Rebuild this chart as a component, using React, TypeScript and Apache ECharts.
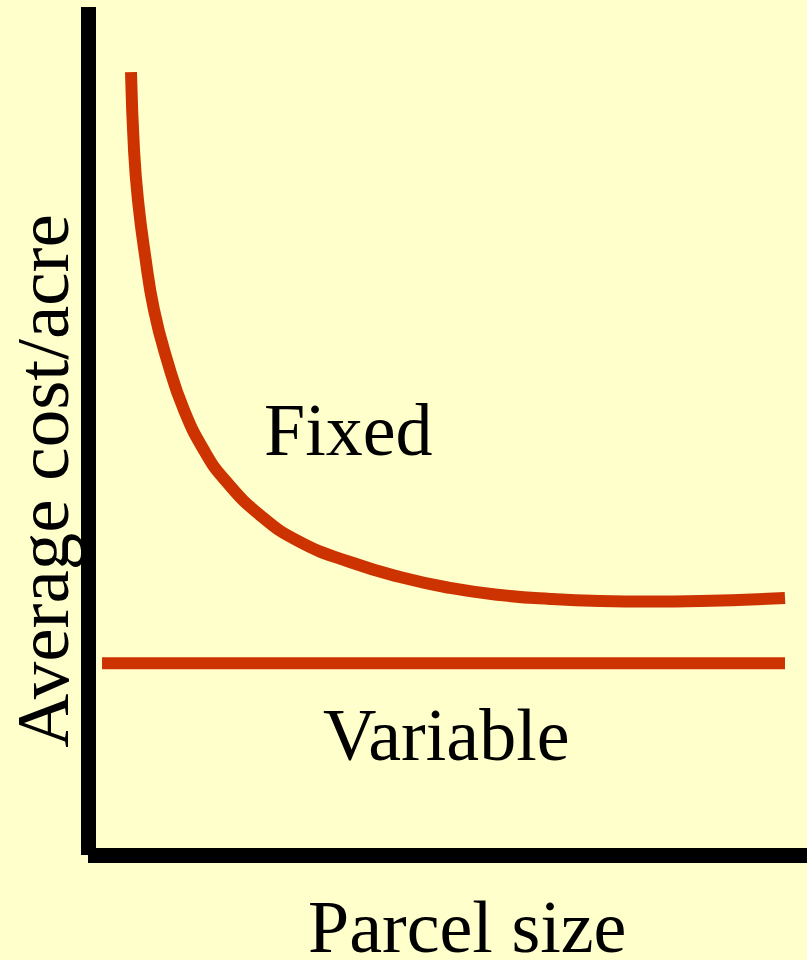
import React, { useEffect, useRef } from "react";
import * as echarts from "echarts";

// Fixed cost per acre curve (abstract units: x = parcel size 0..100, y = avg cost 0..100)
const fixedX = [5.98, 6.4, 6.95, 7.93, 9.18, 10.99, 13.35, 16.27, 19.05, 23.92, 29.49, 36.44, 43.39, 50.35, 57.3, 64.26, 71.21, 78.16, 85.12, 96.94];
const fixedY = [92.33, 83.14, 77.24, 70.75, 64.27, 58.37, 52.48, 47.52, 44.22, 40.09, 36.91, 34.55, 32.78, 31.49, 30.66, 30.19, 29.95, 29.89, 29.95, 30.31];

// Variable cost per acre (constant)
const variableX = [1.95, 96.94];
const variableY = [22.6, 22.6];

const axisTitles = { x: "Parcel size", y: "Average cost/acre" };
const seriesLabels = { fixed: "Fixed", variable: "Variable" };

const BG = "#FFFFCC";
const RED = "#CC3300";
const FONT = "'Liberation Serif', 'Times New Roman', serif";

export default function App() {
  const ref = useRef<HTMLDivElement>(null);
  useEffect(() => {
    if (!ref.current) return;
    const chart = echarts.init(ref.current, null, { renderer: "svg" });
    const textStyle = (text: string, size = 74) => ({
      text,
      font: `${size}px ${FONT}`,
      fill: "#000",
    });
    const axisCommon = {
      type: "value",
      min: 0,
      max: 100,
      axisLine: { show: true, onZero: false, lineStyle: { color: "#000", width: 15, cap: "butt" } },
      axisTick: { show: false },
      axisLabel: { show: false },
      splitLine: { show: false },
    };
    chart.setOption({
      animation: false,
      backgroundColor: BG,
      grid: { left: 88, right: 0, top: 7, bottom: 105 },
      xAxis: { ...axisCommon },
      yAxis: { ...axisCommon },
      series: [
        {
          name: seriesLabels.fixed,
          type: "line",
          smooth: 0.5,
          symbol: "none",
          data: fixedX.map((x, i) => [x, fixedY[i]]),
          lineStyle: { color: RED, width: 12, cap: "butt", join: "round" },
        },
        {
          name: seriesLabels.variable,
          type: "line",
          symbol: "none",
          data: variableX.map((x, i) => [x, variableY[i]]),
          lineStyle: { color: RED, width: 12, cap: "butt" },
        },
      ],
      graphic: [
        {
          type: "text",
          x: 264,
          y: 430,
          style: { ...textStyle(seriesLabels.fixed), textAlign: "left", textVerticalAlign: "middle" },
        },
        {
          type: "text",
          x: 323,
          y: 735,
          style: { ...textStyle(seriesLabels.variable), textAlign: "left", textVerticalAlign: "middle" },
        },
        {
          type: "text",
          x: 308,
          y: 927,
          style: { ...textStyle(axisTitles.x), textAlign: "left", textVerticalAlign: "middle" },
        },
        {
          type: "text",
          x: 42,
          y: 481,
          rotation: Math.PI / 2,
          style: { ...textStyle(axisTitles.y, 75), textAlign: "center", textVerticalAlign: "middle" },
        },
      ],
    });
    return () => chart.dispose();
  }, []);
  return (
    <div
      ref={ref}
      style={{ position: "fixed", left: 0, top: 0, width: 807, height: 960, background: BG }}
    />
  );
}
